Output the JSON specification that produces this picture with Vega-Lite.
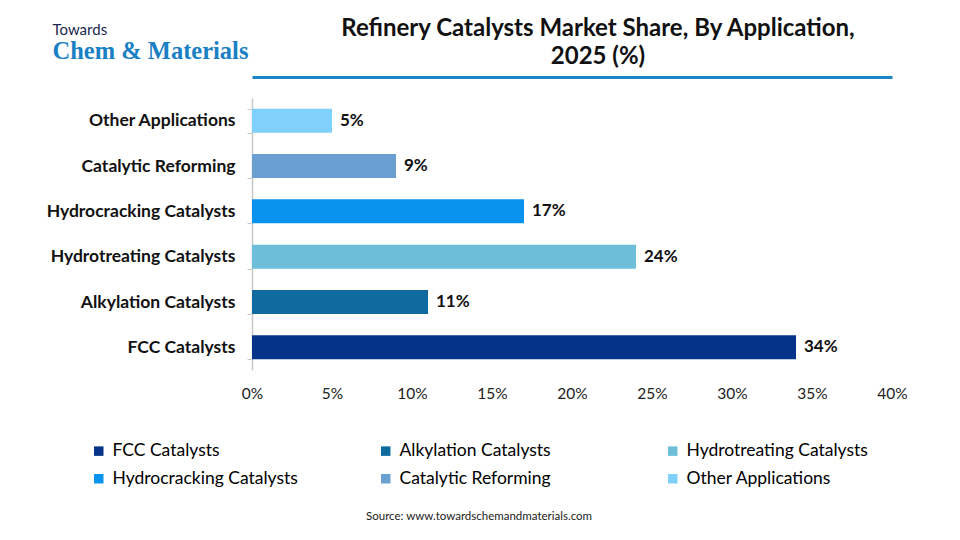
{
  "$schema": "https://vega.github.io/schema/vega-lite/v6.json",
  "width": 640,
  "height": 272,
  "autosize": {"type": "none"},
  "padding": {"left": 252, "top": 98, "right": 68, "bottom": 170},
  "background": "white",
  "config": {"font": "Lato", "view": {"stroke": null}},
  "title": {
    "text": ["Refinery Catalysts Market Share, By Application,", "2025 (%)"],
    "font": "Lato",
    "fontSize": 24,
    "fontWeight": "bold",
    "color": "#111111",
    "anchor": "middle",
    "frame": "group",
    "dx": 26,
    "offset": -47,
    "lineHeight": 28
  },
  "data": {
    "values": [
      {"application": "FCC Catalysts", "share": 34, "label": "34%"},
      {"application": "Alkylation Catalysts", "share": 11, "label": "11%"},
      {"application": "Hydrotreating Catalysts", "share": 24, "label": "24%"},
      {"application": "Hydrocracking Catalysts", "share": 17, "label": "17%"},
      {"application": "Catalytic Reforming", "share": 9, "label": "9%"},
      {"application": "Other Applications", "share": 5, "label": "5%"}
    ]
  },
  "encoding": {
    "y": {
      "field": "application",
      "type": "nominal",
      "sort": ["Other Applications", "Catalytic Reforming", "Hydrocracking Catalysts", "Hydrotreating Catalysts", "Alkylation Catalysts", "FCC Catalysts"],
      "scale": {"paddingInner": 0.47, "paddingOuter": 0.235}
    },
    "x": {
      "field": "share",
      "type": "quantitative",
      "scale": {"domain": [0, 40], "nice": false, "zero": true}
    }
  },
  "resolve": {"axis": {"x": "independent"}},
  "layer": [
    {
      "mark": {"type": "bar"},
      "encoding": {
        "y": {
          "field": "application",
          "type": "nominal",
          "sort": ["Other Applications", "Catalytic Reforming", "Hydrocracking Catalysts", "Hydrotreating Catalysts", "Alkylation Catalysts", "FCC Catalysts"],
          "axis": {
            "title": "Chem & Materials",
            "titleAngle": 0,
            "titleX": -200,
            "titleY": -40,
            "titleAlign": "left",
            "titleBaseline": "alphabetic",
            "titleFont": "Liberation Serif",
            "titleFontSize": 24.5,
            "titleFontWeight": "bold",
            "titleColor": "#1a80c4",
            "labelFont": "Lato",
            "labelFontSize": 17.5,
            "labelFontWeight": "bold",
            "labelColor": "#111111",
            "labelPadding": 12,
            "labelLimit": 300,
            "domainColor": "#c8c8c8",
            "domainWidth": 1.5,
            "tickColor": "#c8c8c8",
            "tickSize": 5,
            "tickBand": "extent"
          }
        },
        "x": {
          "field": "share",
          "type": "quantitative",
          "axis": {
            "title": "Towards",
            "titleX": -200,
            "titleY": -336,
            "titleAlign": "left",
            "titleAnchor": null,
            "titleBaseline": "alphabetic",
            "titleFont": "Lato",
            "titleFontSize": 15,
            "titleFontWeight": "normal",
            "titleColor": "#1c2750",
            "values": [0, 5, 10, 15, 20, 25, 30, 35, 40],
            "labelExpr": "datum.value + '%'",
            "labelFlush": false,
            "labelFont": "Lato",
            "labelFontSize": 15.5,
            "labelColor": "#222222",
            "labelPadding": 16,
            "domain": false,
            "ticks": false,
            "grid": false
          }
        },
        "color": {
          "field": "application",
          "type": "nominal",
          "scale": {
            "domain": ["FCC Catalysts", "Alkylation Catalysts", "Hydrotreating Catalysts", "Hydrocracking Catalysts", "Catalytic Reforming", "Other Applications"],
            "range": ["#05338a", "#0f6aa0", "#6dbfd9", "#0a93ee", "#6a9fd2", "#7fd0fb"]
          },
          "legend": {
            "orient": "none",
            "legendX": -162,
            "legendY": 344,
            "direction": "horizontal",
            "columns": 3,
            "gridAlign": "all",
            "columnPadding": 79,
            "rowPadding": 9,
            "symbolType": "square",
            "symbolSize": 90,
            "symbolStrokeWidth": 0,
            "labelFont": "Lato",
            "labelFontSize": 17.5,
            "labelColor": "#000000",
            "labelLimit": 300,
            "labelOffset": 5,
            "title": "Source: www.towardschemandmaterials.com",
            "titleLimit": 600,
            "titleOrient": "bottom",
            "titleAnchor": "middle",
            "titleFont": "Lato",
            "titleFontSize": 11.5,
            "titleFontWeight": "normal",
            "titleColor": "#222222",
            "titlePadding": 24
          }
        }
      }
    },
    {
      "mark": {"type": "text", "align": "left", "baseline": "middle", "dx": 8, "font": "Lato", "fontSize": 17, "fontWeight": "bold", "color": "#111111"},
      "encoding": {
        "text": {"field": "label"},
        "x": {
          "field": "share",
          "type": "quantitative",
          "axis": {
            "orient": "top",
            "offset": 21,
            "domainColor": "#1a86c6",
            "domainWidth": 3,
            "labels": false,
            "ticks": false,
            "grid": false,
            "title": null
          }
        }
      }
    }
  ]
}
